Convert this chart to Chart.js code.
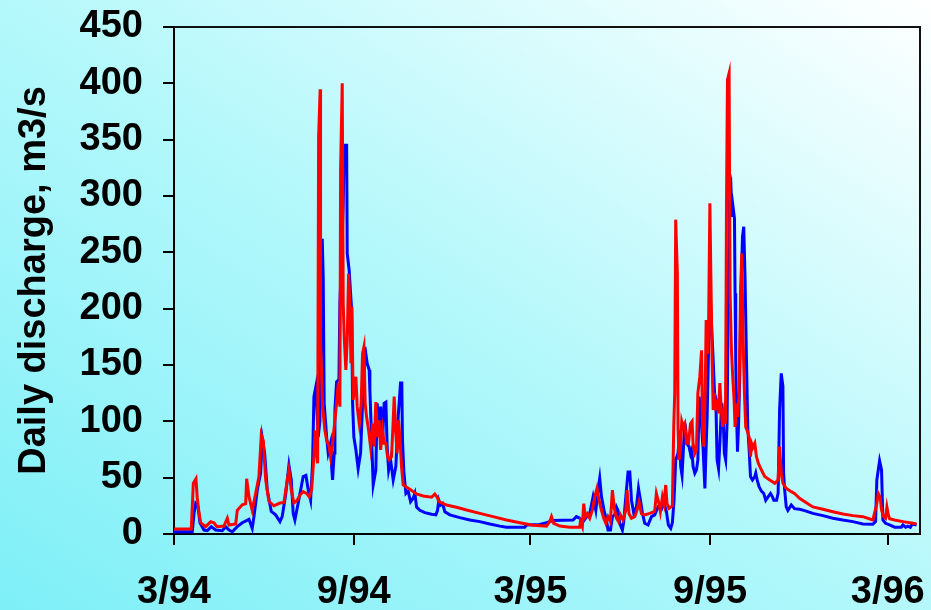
<!DOCTYPE html>
<html>
<head>
<meta charset="utf-8">
<script src="https://cdn.jsdelivr.net/npm/chart.js@4.4.1/dist/chart.umd.min.js"></script>
<style>
  html, body { margin: 0; padding: 0; }
  body {
    width: 931px; height: 610px; overflow: hidden;
    background: linear-gradient(to top right, #7eeff7 0%, #b4f8fb 50%, #ffffff 100%);
  }
  canvas { display: block; }
</style>
</head>
<body>
<canvas id="discharge" width="931" height="610"></canvas>
<script>
// x = days since 1 March 1994, y = daily discharge (m3/s)
const tickDays = [0, 184, 365, 549, 731];
const tickLabels = ["3/94", "9/94", "3/95", "9/95", "3/96"];

const redPoints = [[0,4.5],[17.7,4.5],[19.8,45],[22.5,49],[23.8,32],[25.6,19],[27.3,10],[32.4,6.5],[37.6,11],[40.9,10],[44,6.5],[51.2,7],[54.6,14],[56.3,8],[63.2,9],[64.8,21],[69.9,26],[73.4,27],[74.4,49],[76.8,33],[80.1,21],[83.6,36],[87,51],[89.4,88],[91.4,83],[93.9,48],[97.2,29],[102.3,25],[108.5,27.5],[112.6,28],[116,48],[117.7,57],[120.1,39],[122.8,27.5],[126.2,30],[129,34.6],[132.3,37.6],[135.8,36],[138.5,33],[140.9,39],[143.3,68.6],[144.6,92],[146.1,71.6],[147.1,62.7],[148.1,352.7],[149.7,394.7],[150.1,169],[152.2,113],[154.5,92],[156.3,83.4],[158.9,77.5],[160.4,68.6],[162,77.5],[163,86],[164.8,101],[166.5,116],[168.2,134],[169.9,113],[170.6,323],[172.3,400],[173.3,205],[174.3,175],[176,145.6],[177.4,172],[178.8,231],[180.1,205],[181.2,151.5],[182.2,202],[183.5,119],[185.3,131],[186.3,139.6],[187.6,113],[189.7,98],[191.7,116],[193.1,160],[194.5,166],[195.8,116],[197.2,104],[199.3,92],[201.3,77.5],[203.4,98],[205,77.5],[206.7,117],[208.5,86],[210.1,101],[211.6,74.6],[213.6,92],[215.2,80.5],[217,80.5],[218.7,68.6],[220.4,65.7],[222.8,68.6],[224.5,101],[225.5,122],[227.2,89],[228.5,71.6],[230,101],[231.3,86],[233,60],[234.7,43.5],[241.5,39.7],[248.4,35.5],[255.2,33.7],[263.8,32.6],[267.1,35.5],[269.2,33],[271.5,28.7],[279.1,25.7],[289.3,23.7],[299.6,21.3],[313.2,18.3],[326.8,15.4],[340.5,12.4],[354.1,10],[367.7,7.7],[381.5,7],[384.8,11],[386.6,15.4],[388.9,9.5],[395.1,7],[405.3,6],[415.5,6],[416.2,11],[418.2,6.5],[419.6,27],[421.3,15.4],[423.4,18],[425.8,14],[428.5,21.3],[430.9,33],[433.2,40.5],[435.3,30],[437.7,21.3],[440.1,14],[442.2,9.5],[444.5,15.4],[446.9,11],[449,39],[450.7,24],[453.1,14],[455.2,11],[457.2,17],[459.9,12.4],[462.7,21],[464,39],[466,18],[468.5,14],[471.9,15.4],[474.2,21.3],[476.3,28.7],[478.7,18],[482.1,17],[487.2,18.3],[492.3,20],[494,36],[496.7,27],[498.1,20],[500.2,33],[501.8,27],[503.6,43.5],[504.9,27],[507,22.8],[510.4,25],[511.8,95],[512.8,125],[513.8,279],[515.5,231],[516.2,95],[517.2,65.7],[518.6,75],[520,99.7],[521.4,95],[523.1,98],[524.9,80.5],[526.9,80.5],[529,98],[530.6,100],[531.6,80],[533.4,71.6],[535.1,75],[536.5,125],[538.5,139.6],[540.3,163],[541.3,95],[542.6,77.5],[544,125],[545,190],[546.4,160],[547.4,178],[548.8,293.5],[549.8,231],[551.1,154],[552.2,110],[553.4,125],[554.8,113],[556.2,116],[557.6,107],[559,134],[560.3,113],[561.8,95],[563.4,107],[564.8,98],[565.8,287.6],[566.8,403],[568.5,409],[569.5,213.6],[570.9,163],[572.2,139.6],[573.6,119],[574.6,95],[576,116],[577.3,104],[578.7,125],[580.2,213.6],[581.5,249],[582.8,175],[584.2,125],[585.5,95],[586.9,92],[589,86],[590.4,68.6],[591.7,80],[593,77],[594.8,80.5],[596.5,68.6],[598.5,62.7],[601.6,56.8],[605,51],[610.1,48],[615.3,45],[618.6,48],[620.2,77.5],[621.9,54],[623.6,45],[627,40.5],[632.2,37.6],[635.5,36],[640.6,31.7],[647.6,27.8],[654.3,24],[664.6,21.9],[674.8,19.8],[685,17.8],[695.3,16.3],[705.5,15.4],[715.7,12.4],[719.8,27],[721.2,36],[723.3,32],[724.6,21.3],[726.7,15.4],[728.7,14],[730.1,24],[731.5,17],[732.9,13.5],[738,12.4],[746.5,11],[756.7,9.5],[760.5,9]];

const bluePoints = [[0,2],[18.7,2],[20.5,18],[22.2,27],[24.6,24],[26.6,10],[30.7,3.5],[34.1,3],[38.2,6.5],[42.7,3.5],[49.4,3],[52.9,6.5],[56.3,3.5],[59.7,2],[64.8,6.5],[69.9,10],[76.8,13],[80.1,5],[81.9,15.4],[85.3,39],[88.7,54],[90.4,85],[92.8,72],[95.5,39],[99.6,20],[104.1,17],[108.5,11],[110.8,15.4],[114.3,34.6],[117.7,61],[120.1,48],[122.1,18],[123.8,12.4],[127.2,27.5],[132.3,51],[135.1,52],[137.5,39],[139.9,30],[141.9,62.7],[143.3,122],[145.3,131],[147.7,86],[149.4,100],[151.8,262],[152.8,228],[153.8,116],[156.3,86],[157.9,72],[160.4,81],[161.4,60],[162.4,48],[164.1,72],[164.8,110],[166.5,135],[168.9,137],[169.9,205],[171.6,246],[173.3,293],[174.3,345],[176.8,345],[177.4,249],[179.4,234],[181.9,199],[182.9,116],[184.2,86],[186.3,74.6],[188.6,58],[191.1,72],[193.1,116],[195.5,166],[197.8,151.5],[199.9,145.6],[200.6,128],[202.3,86],[204,43.5],[206.7,56.8],[208.1,116],[210.1,86],[211.6,113],[213.6,83],[215.2,116],[217,117],[218.3,77.5],[219.8,56.8],[221.8,65.7],[224.5,48],[227.2,60],[229.6,104],[232,134],[233.3,134],[234,83],[235.4,55],[237.5,36],[239.8,38],[242.3,28.7],[244.9,31.7],[246.7,36],[248.4,24],[251.8,21],[256.9,19],[263.8,17.5],[268.2,17],[269.9,21],[271.2,30],[273,25.7],[275,27],[277.4,19.8],[282.5,17],[292.7,14.5],[303,12.4],[313.2,11],[323.4,8.9],[333.7,7],[340.5,6],[359.2,6],[361,8],[374.6,8.5],[381.5,10],[388.2,12],[408.7,12.4],[412.1,15.4],[415.5,14],[418.9,11],[422.4,15],[425.8,18.3],[429.2,33],[432,21],[434.3,39],[436,49.4],[437.8,33],[440.4,21],[442.9,12.4],[444.5,3.5],[447,3.5],[449,15.4],[451.4,17],[453.1,24],[454.7,21],[456.5,9.5],[459.2,3.5],[460.6,11],[462.7,33],[465,55],[466.8,55],[468.5,30],[470.9,18.3],[473.6,24],[475.7,40.5],[477.7,30],[479.8,18.3],[482.1,9.5],[485.5,8],[489,15.4],[492.3,17],[495.7,24],[499.2,22],[501.5,28.7],[504.3,20],[506.3,8],[508.7,5],[510.4,10],[512.1,30],[513.8,65.7],[516.2,71.6],[517.9,92],[518.9,60],[520.3,52],[522,80.5],[523.4,98],[525.5,80],[527.5,77.5],[529,71],[530.3,74.6],[531.6,60],[533.4,54],[535.1,57],[536.5,65.7],[537.8,122],[539.3,110],[540.6,92],[541.9,74.6],[543.7,40.5],[544.7,70],[546,104],[547.7,175],[549.5,203],[550.8,180],[552.2,154],[553.6,125],[554.9,120],[556.2,65.7],[557.7,58],[559,80],[560.8,116],[562.4,105],[563.6,71.6],[565,65.7],[566.4,98],[567.7,213.6],[569.1,302],[570.4,308],[571.5,281.6],[572.5,290.5],[574,280],[574.6,213.6],[575.3,154],[576,110],[577.1,73],[578.1,95],[579.4,139.6],[580.7,213.6],[582.2,264],[583.5,272.7],[584.8,228],[586.3,154],[587.6,95],[589,75],[590.4,51],[592.4,48],[594.8,51],[595.8,54],[597.2,48],[599.2,42],[601.6,38],[604,36],[606,30],[608.4,33],[610.9,36],[612.9,33],[614.3,30],[617.1,30],[618.7,36],[620.2,110],[621.9,142.6],[623.6,131],[624.3,54],[625.3,40],[627,24],[628.7,21],[632.2,25.7],[635.5,22.5],[640.6,22],[645.8,20.7],[654.3,18.3],[664.6,16.3],[674.8,14],[685,12.4],[695.3,11],[705.5,8.9],[715.7,8.6],[718.5,11],[719.8,48],[722.6,65],[724.6,56.8],[726,12.4],[728.7,9.5],[732.9,8],[738,6],[744.8,6],[746.5,8],[749.3,6],[751.6,7],[754.1,6],[756.1,8.9],[760.5,8]];

const FONT = "'Liberation Sans', Arial, sans-serif";

// top and right sides of the plot box
const frameBox = {
  id: "frameBox",
  afterDraw(chart) {
    const { ctx, chartArea: a } = chart;
    ctx.save();
    ctx.strokeStyle = "#111";
    ctx.lineWidth = 2;
    ctx.beginPath();
    ctx.moveTo(a.left, a.top);
    ctx.lineTo(a.right, a.top);
    ctx.lineTo(a.right, a.bottom);
    ctx.stroke();
    ctx.restore();
  },
};

const toXY = (pts) => pts.map((p) => ({ x: p[0], y: p[1] }));

new Chart(document.getElementById("discharge"), {
  type: "line",
  data: {
    datasets: [
      {
        label: "red",
        data: toXY(redPoints),
        borderColor: "#ff0000",
        borderWidth: 3,
        pointRadius: 0,
        tension: 0,
      },
      {
        label: "blue",
        data: toXY(bluePoints),
        borderColor: "#0000ff",
        borderWidth: 3,
        pointRadius: 0,
        tension: 0,
      },
    ],
  },
  plugins: [frameBox],
  options: {
    responsive: false,
    animation: false,
    devicePixelRatio: 1,
    layout: { padding: { top: 27, right: 11, left: 0, bottom: 0 } },
    plugins: {
      legend: { display: false },
      tooltip: { enabled: false },
    },
    scales: {
      x: {
        type: "linear",
        min: 0,
        max: 764,
        afterBuildTicks(scale) {
          scale.ticks = tickDays.map((d) => ({ value: d }));
        },
        afterFit(scale) {
          scale.height = 76;
          scale.paddingLeft = 0;
          scale.paddingRight = 0;
        },
        grid: { drawOnChartArea: false, tickLength: 11, color: "#000", lineWidth: 2 },
        border: { display: true, color: "#000", width: 2 },
        ticks: {
          autoSkip: false,
          maxRotation: 0,
          padding: 25,
          color: "#000",
          font: { family: FONT, size: 38, weight: "bold" },
          callback: (v, i) => tickLabels[i],
        },
      },
      y: {
        min: 0,
        max: 450,
        afterFit(scale) {
          scale.width = 174;
          scale.paddingTop = 0;
          scale.paddingBottom = 0;
        },
        grid: { drawOnChartArea: false, tickLength: 11, color: "#000", lineWidth: 2 },
        border: { display: true, color: "#000", width: 2 },
        ticks: {
          stepSize: 50,
          padding: 20,
          color: "#000",
          font: { family: FONT, size: 38, weight: "bold" },
        },
        title: {
          display: true,
          text: "Daily discharge, m3/s",
          color: "#000",
          padding: { top: 12, bottom: 0 },
          font: { family: FONT, size: 38, weight: "bold" },
        },
      },
    },
  },
});
</script>
</body>
</html>
